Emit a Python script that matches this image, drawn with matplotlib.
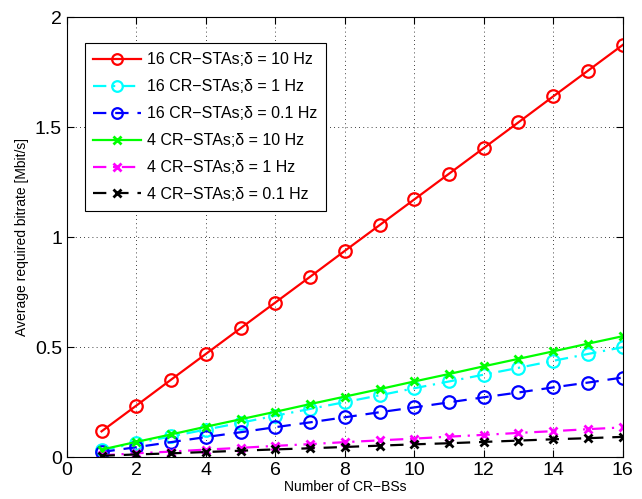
import matplotlib
matplotlib.use("Agg")
import matplotlib.pyplot as plt

plt.rcParams['font.family'] = ['Liberation Sans', 'DejaVu Sans']

n_bs = list(range(1, 17))
sta16_10hz = [0.117, 0.234, 0.352, 0.469, 0.586, 0.703, 0.820, 0.938, 1.055, 1.172, 1.289, 1.406, 1.523, 1.641, 1.758, 1.875]
sta16_1hz = [0.031, 0.063, 0.094, 0.125, 0.156, 0.188, 0.219, 0.250, 0.281, 0.313, 0.344, 0.375, 0.406, 0.438, 0.469, 0.500]
sta16_01hz = [0.023, 0.045, 0.068, 0.091, 0.113, 0.136, 0.158, 0.181, 0.204, 0.226, 0.249, 0.272, 0.294, 0.317, 0.339, 0.362]
sta4_10hz = [0.034, 0.069, 0.103, 0.138, 0.172, 0.206, 0.241, 0.275, 0.309, 0.344, 0.378, 0.413, 0.447, 0.481, 0.516, 0.550]
sta4_1hz = [0.008, 0.017, 0.025, 0.034, 0.042, 0.051, 0.059, 0.068, 0.076, 0.084, 0.093, 0.101, 0.110, 0.118, 0.127, 0.135]
sta4_01hz = [0.006, 0.012, 0.017, 0.023, 0.029, 0.035, 0.040, 0.046, 0.052, 0.058, 0.063, 0.069, 0.075, 0.081, 0.086, 0.092]

labels = ['16 CR\u2212STAs;\u03b4 = 10 Hz', '16 CR\u2212STAs;\u03b4 = 1 Hz', '16 CR\u2212STAs;\u03b4 = 0.1 Hz',
          '4 CR\u2212STAs;\u03b4 = 10 Hz', '4 CR\u2212STAs;\u03b4 = 1 Hz', '4 CR\u2212STAs;\u03b4 = 0.1 Hz']

fig = plt.figure(figsize=(6.42, 4.99), dpi=100)
ax = fig.add_axes([0.104, 0.084, 0.866, 0.881])

lw = 1.6
ax.plot(n_bs, sta16_10hz, color='#ff0000', ls='-', marker='o', ms=9, mfc='none', mew=1.6, lw=lw, label=labels[0])
ax.plot(n_bs, sta16_1hz, color='#00ffff', ls=(0, (6, 3, 1, 3)), marker='o', ms=9, mfc='none', mew=1.6, lw=lw, label=labels[1])
ax.plot(n_bs, sta16_01hz, color='#0000ff', ls=(0, (6, 4)), marker='o', ms=9, mfc='none', mew=1.6, lw=lw, label=labels[2])
ax.plot(n_bs, sta4_10hz, color='#00ff00', ls='-', marker='x', ms=6, mew=2, lw=lw, label=labels[3])
ax.plot(n_bs, sta4_1hz, color='#ff00ff', ls=(0, (6, 3, 1, 3)), marker='x', ms=6, mew=2, lw=lw, label=labels[4])
ax.plot(n_bs, sta4_01hz, color='#000000', ls=(0, (6, 4)), marker='x', ms=6, mew=2, lw=lw, label=labels[5])

ax.set_xlim(0, 16)
ax.set_ylim(0, 2)
ax.set_xticks(range(0, 17, 2))
ax.set_yticks([0, 0.5, 1, 1.5, 2])
ax.set_yticklabels(['0', '0.5', '1', '1.5', '2'])
ax.tick_params(direction='in', top=True, right=True, labelsize=14, length=5, width=0.8)
ax.grid(True, ls=(0, (1, 4)), color='black', lw=0.6)
for s in ax.spines.values():
    s.set_linewidth(0.8)

ax.set_xlabel('Number of CR\u2212BSs', fontsize=10, labelpad=1)
ax.set_ylabel('Average required bitrate [Mbit/s]', fontsize=10, labelpad=4)

leg = ax.legend(loc='upper left', bbox_to_anchor=(0.032, 0.941), borderaxespad=0, fontsize=11.5,
                handlelength=3.0, fancybox=False, framealpha=1, edgecolor='black', borderpad=0.55,
                labelspacing=0.75, handletextpad=0.35, markerscale=0.85)
leg.get_frame().set_linewidth(0.8)

fig.savefig('out.png', dpi=100)
